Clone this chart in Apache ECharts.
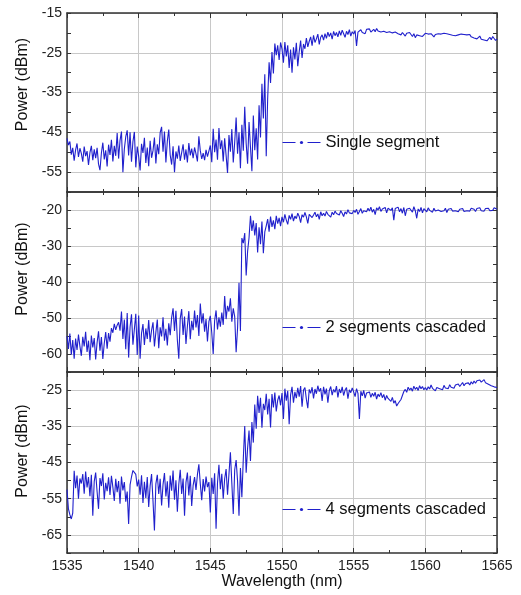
<!DOCTYPE html>
<html>
<head>
<meta charset="utf-8">
<script src="https://cdn.jsdelivr.net/npm/echarts@6/dist/echarts.min.js"></script>
<style>
  html, body { margin: 0; padding: 0; background: #fff; }
  #chart { width: 521px; height: 595px; }
</style>
</head>
<body>
<div id="chart"></div>
<script>
const wlStart = 1535, wlStep = 0.1;

const single = [
  -46.5, -48.2, -47.3, -50.6, -48.9, -52.1, -49.4, -47.8, -51.2, -49.0,
  -50.3, -52.4, -48.6, -51.0, -49.7, -53.2, -50.1, -48.4, -52.0, -49.3,
  -51.5, -48.9, -53.0, -54.5, -50.2, -47.6, -51.8, -49.5, -53.6, -48.1,
  -50.7, -46.9, -52.3, -48.4, -50.9, -45.2, -51.6, -47.0, -44.8, -55.0,
  -49.2, -46.1, -44.5, -50.8, -45.0, -52.4, -47.3, -44.9, -53.8, -48.6,
  -51.0, -54.6, -47.9, -50.2, -46.4, -52.7, -48.8, -53.5, -47.1, -51.4,
  -49.6, -46.3, -52.8, -48.0, -50.5, -45.1, -43.6, -49.9, -44.8, -52.6,
  -47.2, -44.3, -50.7, -53.1, -48.5, -55.0, -49.8, -51.6, -48.3, -52.2,
  -50.1, -48.0, -51.9, -49.3, -52.6, -47.7, -50.8, -49.1, -51.5, -48.8,
  -50.4, -52.3, -46.0, -49.6, -51.7, -50.2, -52.0, -49.4, -51.1, -50.6,
  -48.3, -52.5, -44.1, -50.0, -46.8, -51.9, -43.9, -49.2, -47.0, -52.3,
  -46.5, -50.8, -55.2, -45.7, -49.9, -44.2, -52.6, -47.5, -41.3, -50.4,
  -45.0, -54.0, -43.1, -49.6, -38.6, -47.8, -52.9, -42.4, -48.7, -54.8,
  -40.8, -49.5, -44.0, -51.8, -38.2, -46.3, -32.8, -41.5, -30.4, -51.0,
  -36.5, -27.4, -32.6, -24.8, -30.2, -22.7, -25.6, -23.1, -26.8, -22.4,
  -24.0, -27.5, -22.3, -25.9, -23.1, -28.8, -24.2, -30.0, -23.6, -26.7,
  -22.5, -28.4, -24.7, -21.9, -26.3, -22.8, -24.0, -21.3, -23.5, -22.1,
  -21.0, -23.2, -20.6, -22.4, -21.5, -20.3, -22.9, -21.1, -20.5, -21.8,
  -20.2, -21.4, -19.8, -20.9, -20.0, -21.6, -19.6, -20.7, -19.9, -21.0,
  -19.5, -20.6, -19.3, -20.2, -21.1, -19.6, -20.4, -19.2, -20.8, -19.7,
  -20.3, -19.4, -23.3, -19.8, -20.1, -19.2, -19.9, -19.4, -20.2, -19.1,
  -19.6, -19.0, -19.8, -19.3, -19.1, -19.7, -18.9, -19.5, -19.2, -19.8,
  -19.3, -19.6, -19.1, -19.9, -19.4, -19.7, -19.2, -20.0, -19.5, -19.8,
  -19.6, -20.2, -19.8, -20.5, -19.9, -20.3, -20.8, -20.1, -20.6, -19.9,
  -20.4, -20.9, -20.2, -21.2, -20.5, -20.0, -20.7, -20.3, -20.9, -20.4,
  -20.1, -20.6, -20.3, -20.8, -20.2, -20.5, -21.0, -20.4, -20.7, -20.2,
  -20.6, -20.3, -20.8, -20.1, -20.5, -20.2, -20.7, -20.4, -20.1, -20.6,
  -20.3, -20.7, -20.2, -20.5, -20.8, -20.3, -20.6, -20.4, -20.9, -20.5,
  -20.7, -20.4, -21.0, -20.6, -21.3, -20.9, -21.5, -21.1, -20.8, -21.6,
  -21.2, -21.8, -21.4, -22.0, -21.5, -21.1, -21.7, -20.9, -21.4, -21.9,
  -21.5
];

const twoSeg = [
  -55.0, -58.6, -54.3, -60.2, -56.1, -61.3, -55.7, -58.9, -54.6, -57.8,
  -60.5, -55.2, -57.9, -53.8, -59.4, -56.3, -61.7, -54.9, -58.2, -55.6,
  -61.5, -56.8, -53.7, -59.1, -55.3, -61.4, -57.0, -53.9, -58.5, -54.2,
  -56.6, -52.8, -54.1, -51.6, -53.3, -52.0, -51.2, -53.5, -48.2, -55.8,
  -50.4, -58.7, -48.6, -61.0, -52.5, -49.0, -57.4, -53.1, -48.8, -60.3,
  -49.3, -61.3, -54.2, -51.7, -57.5, -52.9, -55.8, -50.6, -56.7, -53.4,
  -51.2, -57.9, -54.0, -50.4, -58.4, -52.6, -55.1, -49.8, -56.3, -53.0,
  -57.6, -51.5, -54.8, -49.9, -47.3, -53.6, -48.0, -56.2, -61.3, -50.1,
  -47.5, -54.7, -49.6, -57.2, -52.3, -48.1, -55.9, -50.8, -53.4, -47.9,
  -52.6, -49.2, -55.0, -46.0, -51.5, -48.7, -53.8, -50.3, -56.5, -51.0,
  -49.4, -54.1, -60.0, -50.7, -47.9, -53.2, -49.8, -52.4, -48.5, -51.9,
  -43.9, -50.3, -46.6, -48.2, -44.5, -51.0, -47.3, -49.6, -59.5, -52.8,
  -40.2, -53.6, -27.8, -29.2, -26.4, -38.2, -31.5, -27.7, -21.6, -25.8,
  -22.9, -27.1, -23.6, -31.8, -24.8, -29.5, -23.2, -32.0, -26.1, -24.4,
  -22.5, -26.0, -21.8, -24.7, -22.9, -25.3, -21.6, -23.8, -22.2, -24.5,
  -21.9, -23.4, -21.2, -22.8, -24.0, -21.5, -22.6, -21.0, -23.1, -21.7,
  -22.4, -20.9, -21.8, -23.5, -21.3, -22.0, -20.7, -21.9, -23.7, -21.2,
  -20.8, -22.1, -21.4, -20.6, -21.9, -21.1, -22.6, -20.5, -21.6, -20.9,
  -21.7, -20.4, -21.2, -20.8, -22.0, -20.6, -21.3, -20.3, -21.0, -20.7,
  -21.4, -20.2, -20.9, -21.8, -20.5, -21.1, -19.9, -20.8, -20.3, -21.0,
  -20.1, -20.7, -19.8, -21.2, -20.4, -19.6, -20.9, -20.2, -19.7, -20.5,
  -19.5, -20.3, -19.2, -20.6, -19.8, -21.3, -19.4, -20.0, -19.1, -20.4,
  -19.7, -20.2, -19.3, -20.8, -19.5, -19.0, -20.1, -19.4, -22.8, -19.6,
  -20.0, -19.2, -20.5, -19.6, -20.9, -19.3, -21.6, -19.8, -20.3, -19.5,
  -19.9, -20.6, -19.1, -20.2, -22.3, -19.7, -20.4, -19.3, -20.8, -19.6,
  -19.9, -20.5, -19.4, -20.1, -19.7, -20.6, -19.5, -20.3, -19.8, -20.0,
  -19.6, -20.4, -19.9, -20.2, -19.5, -20.7, -19.8, -20.1, -19.6, -20.3,
  -19.9, -20.2, -19.7, -20.5, -19.8, -20.1, -19.6, -20.4, -19.9, -20.2,
  -19.7, -20.3, -19.5, -20.0, -19.8, -20.4, -19.6, -20.1, -19.4, -20.2,
  -19.8, -20.3, -19.6, -20.0, -19.5, -20.2, -19.7, -20.1, -19.4, -19.9,
  -19.8
];

const fourSeg = [
  -52.5, -57.8, -59.4, -60.6, -59.0, -47.3, -52.1, -48.6, -55.0, -49.4,
  -50.8, -48.2, -53.6, -47.5, -51.9, -49.0, -54.3, -48.4, -59.7, -50.2,
  -47.8, -53.1, -57.8, -49.3, -51.5, -48.0, -55.2, -50.6, -52.9, -49.1,
  -54.0, -48.7, -51.8, -55.6, -49.5, -53.2, -50.1, -56.4, -48.9, -52.7,
  -50.4, -55.8, -53.0, -62.0, -51.2, -49.0, -47.2, -46.8, -48.3, -51.6,
  -49.7, -53.9, -48.5, -56.2, -50.3, -54.8, -49.0, -57.3, -51.4, -48.2,
  -55.6, -63.8, -50.9, -48.4, -53.7, -49.5, -56.9, -51.1, -47.9, -54.4,
  -50.2, -57.5, -48.6, -52.8, -47.2, -55.3, -49.9, -58.6, -51.0, -47.0,
  -53.7, -49.4, -59.7, -50.5, -47.8, -54.1, -48.7, -57.0, -51.3, -49.0,
  -52.6, -48.3, -45.5, -50.9, -55.4, -49.6, -53.0, -48.9, -51.8, -50.4,
  -58.8, -49.2, -53.7, -48.0, -63.3, -50.6, -45.6, -52.4, -48.1, -55.0,
  -49.5, -46.8, -53.9, -48.2, -42.2, -50.7, -59.2, -47.0, -44.3, -50.1,
  -59.7, -46.5, -54.6, -44.0, -34.9, -47.8, -41.0, -36.2, -44.6, -33.8,
  -39.5, -29.0, -35.7, -26.6, -31.3, -27.1, -35.4, -28.8, -30.5, -26.0,
  -31.7, -27.4, -35.3, -26.1, -29.8, -25.7, -30.9, -27.8, -26.5, -29.2,
  -25.8, -33.0, -24.6, -27.9, -25.2, -34.4, -26.3, -24.1, -28.5, -25.5,
  -27.2, -24.4, -26.8, -23.9, -29.6, -25.0, -24.3, -27.5, -30.0, -24.8,
  -25.9, -24.2, -27.3, -24.7, -26.0, -23.8, -25.4, -24.5, -28.0, -24.1,
  -26.2, -24.6, -28.5, -25.1, -24.0, -26.4, -24.8, -25.6, -23.9, -27.0,
  -24.7, -25.8, -24.1, -26.5, -25.0, -24.3, -27.4, -24.9, -25.7, -24.4,
  -25.5, -26.8, -24.6, -25.9, -33.0, -25.3, -26.6, -25.1, -27.2, -25.8,
  -26.3, -25.5, -27.0, -25.9, -26.7, -25.6, -27.5, -26.1, -26.8, -25.7,
  -27.1, -26.2, -27.8, -26.5, -27.3, -26.8, -28.1, -27.0, -28.6, -27.9,
  -29.4, -28.7, -29.1, -27.6, -26.5, -25.4, -24.8, -25.6, -24.2, -25.0,
  -24.4, -25.3, -23.9, -24.8, -24.2, -25.1, -23.8, -24.6, -24.0, -24.9,
  -24.3, -25.0, -24.1, -24.7, -23.6, -24.5, -24.0, -25.2, -24.3, -23.8,
  -24.6, -24.1, -24.9, -23.7, -24.4, -23.9, -24.6, -23.5, -24.2, -23.8,
  -24.5, -23.6, -24.1, -23.3, -24.0, -23.5, -22.9, -23.8, -23.2, -23.7,
  -23.0, -23.6, -22.7, -23.3, -22.5, -23.1, -22.4, -22.9, -22.2, -22.8,
  -22.4, -22.1, -23.0, -22.6, -23.4, -23.1, -23.8, -23.5, -24.1, -23.7,
  -24.3
];

const seriesNames = ['Single segment', '2 segments cascaded', '4 segments cascaded'];
const yMins = [-60, -65, -70];
const yMaxs = [-15, -15, -20];
const xMin = 1535, xMax = 1565;

var spectra = [single, twoSeg, fourSeg];
var tops = [13, 192, 372];
var heights = [179, 180, 181];
var legendTops = [134, 319, 501];
var namePads = [36, 26, 23];
var lineColor = '#2020cc';
var frameColor = '#333';
var font = 'Liberation Sans, Arial, sans-serif';

var chart = echarts.init(document.getElementById('chart'), null, { renderer: 'canvas' });

var grid = [], xAxis = [], yAxis = [], series = [], legend = [];
for (var i = 0; i < 3; i++) {
  grid.push({ left: 67, right: 24, top: tops[i], height: heights[i] });

  // bottom and top x axes
  xAxis.push({
    gridIndex: i, type: 'value', min: xMin, max: xMax, interval: 5, position: 'bottom',
    axisLine: { onZero: false, lineStyle: { color: frameColor, width: 1.5 } },
    axisTick: { inside: true, length: 5, lineStyle: { color: frameColor } },
    minorTick: { show: true, splitNumber: 2, length: 3, lineStyle: { color: frameColor } },
    axisLabel: {
      show: i === 2, margin: 6, fontSize: 14, color: '#222', fontFamily: font,
      formatter: function (v) { return String(v); }
    },
    splitLine: { show: true, lineStyle: { color: '#c8c8c8', width: 1 } },
    name: i === 2 ? 'Wavelength (nm)' : '',
    nameLocation: 'middle', nameGap: 19,
    nameTextStyle: { fontSize: 16, color: '#111', fontFamily: font }
  });
  xAxis.push({
    gridIndex: i, type: 'value', min: xMin, max: xMax, interval: 5, position: 'top',
    axisLine: { onZero: false, lineStyle: { color: frameColor, width: 1.5 } },
    axisTick: { inside: true, length: 5, lineStyle: { color: frameColor } },
    minorTick: { show: true, splitNumber: 2, length: 3, lineStyle: { color: frameColor } },
    axisLabel: { show: false },
    splitLine: { show: false }
  });

  (function (mn) {
    yAxis.push({
      gridIndex: i, type: 'value', min: mn, max: yMaxs[i], interval: 5, position: 'left',
      axisLine: { onZero: false, lineStyle: { color: frameColor, width: 1.5 } },
      axisTick: { inside: true, length: 4, lineStyle: { color: frameColor } },
      axisLabel: {
        margin: 5, fontSize: 14, color: '#222', fontFamily: font,
        formatter: function (v) { return Math.round((v - mn) / 5) % 2 === 1 ? String(v) : ''; }
      },
      splitLine: { show: true, lineStyle: { color: ['rgba(0,0,0,0)', '#c8c8c8'], width: 1 } },
      name: 'Power (dBm)', nameLocation: 'middle', nameGap: 35,
      nameTextStyle: { fontSize: 16, color: '#111', fontFamily: font, padding: [0, 0, 0, namePads[i]] }
    });
  })(yMins[i]);
  yAxis.push({
    gridIndex: i, type: 'value', min: yMins[i], max: yMaxs[i], interval: 5, position: 'right',
    axisLine: { onZero: false, lineStyle: { color: frameColor, width: 1.5 } },
    axisTick: { inside: true, length: 4, lineStyle: { color: frameColor } },
    axisLabel: { show: false },
    splitLine: { show: false }
  });

  var pts = spectra[i].map(function (v, k) {
    return [+(wlStart + k * wlStep).toFixed(1), v];
  });
  series.push({
    name: seriesNames[i], type: 'line', xAxisIndex: 2 * i, yAxisIndex: 2 * i,
    data: pts, showSymbol: false, symbol: 'circle', symbolSize: 3,
    lineStyle: { color: lineColor, width: 1.1 }, itemStyle: { color: lineColor },
    animation: false
  });

  legend.push({
    data: [seriesNames[i]], left: 282, top: legendTops[i], padding: 0,
    itemWidth: 38, itemHeight: 4, itemGap: 0,
    lineStyle: { type: [13, 12], width: 1 },
    textStyle: { fontSize: 16.5, color: '#111', fontFamily: font },
    selectedMode: false
  });
}

chart.setOption({
  backgroundColor: '#fff',
  animation: false,
  grid: grid,
  xAxis: xAxis,
  yAxis: yAxis,
  legend: legend,
  series: series
});
</script>
</body>
</html>
